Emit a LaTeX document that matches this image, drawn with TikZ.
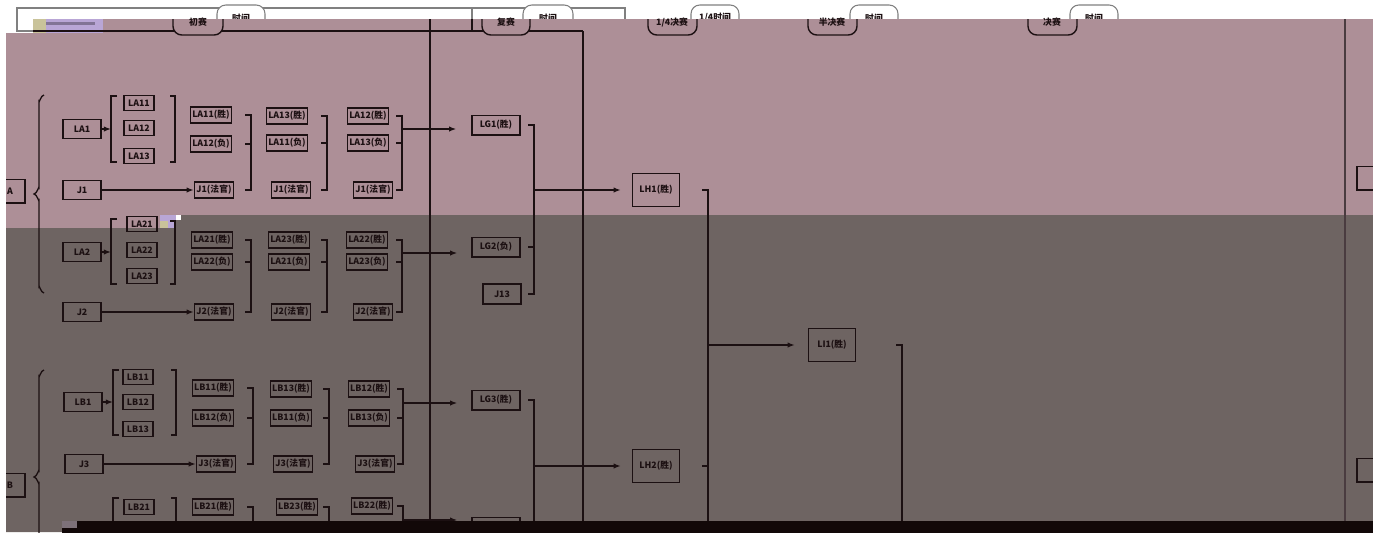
\documentclass[tikz,border=0pt]{standalone}
\usepackage{fontspec}
\newfontfamily\cjk{Noto Sans CJK SC}
\usetikzlibrary{positioning,calc,arrows.meta}

\definecolor{mauve}{RGB}{173,143,151}
\definecolor{slate}{RGB}{110,100,98}
\definecolor{ink}{RGB}{28,16,18}
\definecolor{band}{RGB}{18,8,8}
\definecolor{noise}{RGB}{185,166,214}
\definecolor{noisey}{RGB}{201,195,154}
\definecolor{rule}{RGB}{74,60,64}

\tikzset{
  box/.style={draw=ink, line width=0.85pt, inner sep=0pt, text=ink,
    font=\cjk\bfseries\fontsize{5}{6}\selectfont,
    minimum width=0.82cm, minimum height=0.32cm},
  seed/.style={box, minimum width=0.76cm, minimum height=0.38cm},
  sub/.style={box, minimum width=0.6cm, minimum height=0.3cm},
  judge/.style={box, minimum width=0.78cm},
  grp/.style={box, minimum width=0.96cm, minimum height=0.39cm},
  big/.style={box, minimum width=0.94cm, minimum height=0.66cm},
  side/.style={box, minimum width=0.6cm, minimum height=0.47cm},
  link/.style={draw=ink, line width=0.75pt},
  arr/.style={link, -{Latex[length=4pt,width=3pt]}},
  frame/.style={draw=gray, line width=0.6pt},
  tabline/.style={draw=ink, fill=mauve, line width=0.8pt, rounded corners=5pt},
  tabwhite/.style={draw=gray, fill=white, line width=0.6pt, rounded corners=5pt},
  hd/.style={inner sep=0pt, text=ink, font=\cjk\bfseries\fontsize{5}{6}\selectfont},
}

% "]" with three stubs: bar x, top, middle, bottom
\newcommand\joinR[4]{%
  \draw[link] ($(#2 -| #1,0)+(-6,0)$) -- (#2 -| #1,0) -- (#4 -| #1,0)
    -- ($(#4 -| #1,0)+(-6,0)$);
  \draw[link] ($(#3 -| #1,0)+(-6,0)$) -- (#3 -| #1,0);}

\begin{document}
\begin{tikzpicture}[x=0.02cm, y=-0.02cm]

  \useasboundingbox (0,0) rectangle (1373,532);
  \clip (0,0) rectangle (1373,532);
  \fill[white] (0,0) rectangle (1373,532);

  % header strip, partly hidden
  \draw[frame] (17,8) rectangle (625,31);
  \draw[frame] (472,8) -- (472,31);
  \filldraw[tabwhite] (217,19) -- (217,5) -- (265,5) -- (265,19);
  \filldraw[tabwhite] (523,19) -- (523,5) -- (573,5) -- (573,19);
  \filldraw[tabwhite] (691,19) -- (691,5) -- (739,5) -- (739,19);
  \filldraw[tabwhite] (850,19) -- (850,5) -- (898,5) -- (898,19);
  \filldraw[tabwhite] (1070,19) -- (1070,5) -- (1118,5) -- (1118,19);
  \node[hd] (w1) at (241,18) {时间};
  \node[hd] (w2) at (548,18) {时间};
  \node[hd] (w3) at (715,18) {1/4时间};
  \node[hd] (w4) at (874,18) {时间};
  \node[hd] (w5) at (1094,18) {时间};

  % background bands
  \fill[mauve] (6,33) -- (103,33) -- (103,19) -- (1373,19) -- (1373,215)
    -- (160,215) -- (160,228) -- (6,228) -- cycle;
  \fill[slate] (6,228) -- (160,228) -- (160,215) -- (1373,215)
    -- (1373,532) -- (6,532) -- cycle;
  \fill[noise] (33,19) rectangle (103,33);
  \fill[noisey] (33,19) rectangle (46,33);
  \fill[noise!70!black] (46,22) rectangle (95,25);
  \fill[noise] (160,215) rectangle (176,228);
  \fill[noisey] (160,221) rectangle (168,228);
  \fill[white] (176,215) rectangle (181,220);
  \draw[link] (33,31) -- (583,31);
  \draw[link] (472,19) -- (472,31);

  % round tabs
  \begin{scope}
    \clip (0,19) rectangle (1373,532);
    \filldraw[tabline] (173,0) -- (173,35) -- (223,35) -- (223,0);
    \filldraw[tabline] (482,0) -- (482,35) -- (530,35) -- (530,0);
    \filldraw[tabline] (648,0) -- (648,35) -- (697,35) -- (697,0);
    \filldraw[tabline] (808,0) -- (808,35) -- (857,35) -- (857,0);
    \filldraw[tabline] (1028,0) -- (1028,35) -- (1077,35) -- (1077,0);
  \end{scope}
  \node[hd] (h1) at (198,22) {初赛};
  \node[hd] (h2) at (506,22) {复赛};
  \node[hd] (h3) at (672,22) {1/4决赛};
  \node[hd] (h4) at (832,22) {半决赛};
  \node[hd] (h5) at (1052,22) {决赛};

  % column rules
  \draw[ink, line width=1.6pt] (430,19) -- (430,532);
  \draw[ink, line width=0.65pt] (583,31) -- (583,532);
  \draw[rule, line width=0.9pt] (1345,19) -- (1345,532);

  % group A
  \node[side] (A) at (10,191) {A};
  \node[side] (Ar) at (1372,178) {};
  \draw[link] (44,95) to[out=180,in=-90] (39,101) -- (39,188)
    to[out=90,in=0] (34,194) to[out=0,in=-90] (39,200) -- (39,287)
    to[out=90,in=180] (44,293);

  \node[seed] (LA1) at (82,129) {LA1};
  \node[sub] (LA11) at (139,103) {LA11};
  \node[sub] (LA12) at (139,128) {LA12};
  \node[sub] (LA13) at (139,156) {LA13};
  \node[seed] (J1) at (82,190) {J1};
  \draw[link] (117,96) -- (111,96) -- (111,162) -- (117,162);
  \draw[link] (170,96) -- (175,96) -- (175,162) -- (170,162);
  \draw[arr] (LA1.east) -- (LA1.east -| 111,0);

  \node[box] (a11w) at (211,115) {LA11(胜)};
  \node[box] (a12l) at (211,144) {LA12(负)};
  \node[judge] (j1a) at (214,190) {J1(法官)};
  \node[box] (a13w) at (287,116) {LA13(胜)};
  \node[box] (a11l) at (287,143) {LA11(负)};
  \node[judge] (j1b) at (291,190) {J1(法官)};
  \node[box] (a12w) at (368,116) {LA12(胜)};
  \node[box] (a13l) at (368,143) {LA13(负)};
  \node[judge] (j1c) at (373,190) {J1(法官)};
  \draw[arr] (J1) -- (j1a);
  \joinR{251}{a11w}{a12l}{j1a}
  \joinR{327}{a13w}{a11l}{j1b}
  \joinR{402}{a12w}{a13l}{j1c}

  \node[seed] (LA2) at (82,252) {LA2};
  \node[sub] (LA21) at (142,224) {LA21};
  \node[sub] (LA22) at (142,250) {LA22};
  \node[sub] (LA23) at (142,276) {LA23};
  \node[seed] (J2) at (82,312) {J2};
  \draw[link] (117,219) -- (111,219) -- (111,284) -- (117,284);
  \draw[link] (170,221) -- (175,221) -- (175,284) -- (170,284);
  \draw[arr] (LA2.east) -- (LA2.east -| 111,0);

  \node[box] (a21w) at (212,240) {LA21(胜)};
  \node[box] (a22l) at (212,262) {LA22(负)};
  \node[judge] (j2a) at (214,312) {J2(法官)};
  \node[box] (a23w) at (289,240) {LA23(胜)};
  \node[box] (a21l) at (289,262) {LA21(负)};
  \node[judge] (j2b) at (291,312) {J2(法官)};
  \node[box] (a22w) at (367,240) {LA22(胜)};
  \node[box] (a23l) at (367,262) {LA23(负)};
  \node[judge] (j2c) at (373,312) {J2(法官)};
  \draw[arr] (J2) -- (j2a);
  \joinR{251}{a21w}{a22l}{j2a}
  \joinR{327}{a23w}{a21l}{j2b}
  \joinR{402}{a22w}{a23l}{j2c}

  \node[grp] (LG1) at (496,125) {LG1(胜)};
  \node[grp] (LG2) at (496,247) {LG2(负)};
  \node[seed, minimum height=0.4cm] (J13) at (502,294) {J13};
  \coordinate (oa1) at (402,129);
  \coordinate (oa2) at (402,253);
  \draw[arr] (oa1) -- ($(oa1 -| LG1.west)+(-15,0)$);
  \draw[arr] (oa2) -- ($(oa2 -| LG2.west)+(-14,0)$);
  \joinR{534}{LG1}{LG2}{J13}

  \node[big] (LH1) at (656,190) {LH1(胜)};
  \coordinate (og1) at (534,190);
  \draw[arr] (og1) -- ($(og1 -| LH1.west)+(-11,0)$);

  % group B
  \node[side] (B) at (10,485) {B};
  \node[side] (Br) at (1372,470) {};
  \draw[link] (44,370) to[out=180,in=-90] (39,376) -- (39,471)
    to[out=90,in=0] (34,477) to[out=0,in=-90] (39,483) -- (39,578)
    to[out=90,in=180] (44,584);

  \node[seed] (LB1) at (83,402) {LB1};
  \node[sub] (LB11) at (138,377) {LB11};
  \node[sub] (LB12) at (138,402) {LB12};
  \node[sub] (LB13) at (138,429) {LB13};
  \node[seed] (J3) at (84,464) {J3};
  \draw[link] (119,370) -- (113,370) -- (113,435) -- (119,435);
  \draw[link] (171,370) -- (176,370) -- (176,435) -- (171,435);
  \draw[arr] (LB1.east) -- (LB1.east -| 113,0);

  \node[box] (b11w) at (213,388) {LB11(胜)};
  \node[box] (b12l) at (213,418) {LB12(负)};
  \node[judge] (j3a) at (216,464) {J3(法官)};
  \node[box] (b13w) at (291,389) {LB13(胜)};
  \node[box] (b11l) at (291,418) {LB11(负)};
  \node[judge] (j3b) at (293,464) {J3(法官)};
  \node[box] (b12w) at (369,389) {LB12(胜)};
  \node[box] (b13l) at (369,418) {LB13(负)};
  \node[judge] (j3c) at (375,464) {J3(法官)};
  \draw[arr] (J3) -- (j3a);
  \joinR{253}{b11w}{b12l}{j3a}
  \joinR{329}{b13w}{b11l}{j3b}
  \joinR{403}{b12w}{b13l}{j3c}

  \node[sub] (LB21) at (139,507) {LB21};
  \draw[link] (119,498) -- (113,498) -- (113,560);
  \draw[link] (171,498) -- (176,498) -- (176,560);
  \node[box] (b21w) at (213,507) {LB21(胜)};
  \node[box] (b23w) at (297,507) {LB23(胜)};
  \node[box] (b22w) at (372,506) {LB22(胜)};
  \coordinate (e1) at (253,560);
  \coordinate (e2) at (329,560);
  \coordinate (e3) at (403,560);
  \draw[link] ($(b21w -| e1)+(-6,0)$) -- (b21w -| e1) -- (e1);
  \draw[link] ($(b23w -| e2)+(-6,0)$) -- (b23w -| e2) -- (e2);
  \draw[link] ($(b22w -| e3)+(-6,0)$) -- (b22w -| e3) -- (e3);

  \node[grp] (LG3) at (496,400) {LG3(胜)};
  \node[grp] (LG4) at (496,527) {};
  \coordinate (ob1) at (403,403);
  \coordinate (ob2) at (403,520);
  \draw[arr] (ob1) -- ($(ob1 -| LG3.west)+(-14,0)$);
  \draw[arr] (ob2) -- ($(ob2 -| LG4.west)+(-14,0)$);
  \coordinate (gb) at (534,560);
  \draw[link] ($(LG3 -| gb)+(-6,0)$) -- (LG3 -| gb) -- (gb);

  \node[big] (LH2) at (656,466) {LH2(胜)};
  \coordinate (og2) at (534,466);
  \draw[arr] (og2) -- ($(og2 -| LH2.west)+(-11,0)$);

  % semi final side
  \coordinate (hb) at (708,560);
  \draw[link] ($(LH1 -| hb)+(-6,0)$) -- (LH1 -| hb) -- (hb);
  \draw[link] ($(LH2 -| hb)+(-6,0)$) -- (LH2 -| hb);
  \node[big] (LI1) at (832,345) {LI1(胜)};
  \coordinate (oh) at (708,345);
  \draw[arr] (oh) -- ($(oh -| LI1.west)+(-13,0)$);
  \coordinate (ib) at (902,560);
  \draw[link] ($(LI1 -| ib)+(-6,0)$) -- (LI1 -| ib) -- (ib);

  % bottom band and left margin
  \fill[band] (62,521) rectangle (1373,540);
  \fill[slate!80!noise] (62,521) rectangle (77,528);
  \fill[white] (0,33) rectangle (6,540);

\end{tikzpicture}
\end{document}
